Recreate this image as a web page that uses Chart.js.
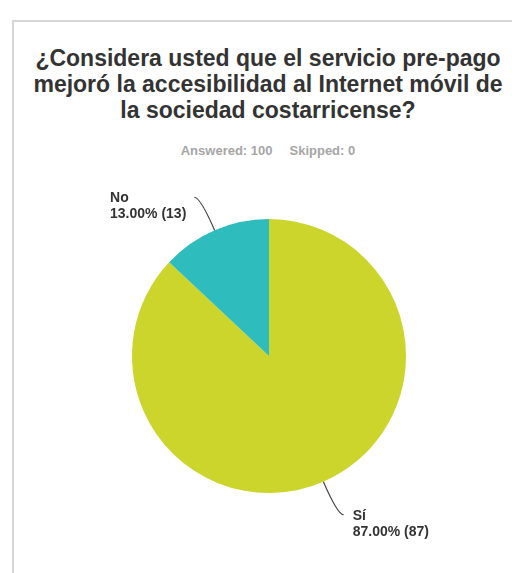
<!DOCTYPE html>
<html>
<head>
<meta charset="utf-8">
<script src="https://cdn.jsdelivr.net/npm/chart.js@4"></script>
<style>
  html, body { margin: 0; padding: 0; background: #fff; overflow: hidden; }
  body { width: 512px; height: 573px; position: relative; font-family: "Liberation Sans", Arial, sans-serif; }
  .panel { position: absolute; left: 12px; top: 20px; width: 600px; height: 700px; border: 2px solid #d6d6d6; box-sizing: border-box; }
  .title { position: absolute; left: 13px; width: 510px; top: 45px; text-align: center; font-weight: bold; font-size: 23px; line-height: 26px; color: #333; }
  .stats { position: absolute; left: 13px; width: 510px; top: 143px; text-align: center; font-weight: bold; font-size: 13px; line-height: 15px; color: #a6a6a6; }
  .stats span + span { margin-left: 17px; }
  #pie { position: absolute; left: 0; top: 0; }
</style>
</head>
<body>
<div class="panel"></div>
<div class="title">¿Considera usted que el servicio pre-pago<br>mejoró la accesibilidad al Internet móvil de<br>la sociedad costarricense?</div>
<div class="stats"><span>Answered: 100</span><span>Skipped: 0</span></div>
<canvas id="pie" width="512" height="573"></canvas>
<script>
// respuestas a la pregunta
const labels = ['Sí', 'No'];
const counts = [87, 13];
const colors = ['#ccd52b', '#2ebcbc'];

const total = counts.reduce((a, b) => a + b, 0);

// etiquetas con linea guia, fuera del pastel
const calloutPlugin = {
    id: 'callouts',
    afterDatasetsDraw(chart) {
        const ctx = chart.ctx;
        const arcs = chart.getDatasetMeta(0).data;
        ctx.save();
        arcs.forEach((arc, i) => {
            const p = arc.getProps(['x', 'y', 'startAngle', 'endAngle', 'outerRadius'], true);
            const mid = (p.startAngle + p.endAngle) / 2;
            const dx = Math.cos(mid), dy = Math.sin(mid);
            const edge = { x: p.x + dx * p.outerRadius, y: p.y + dy * p.outerRadius };
            const elbow = { x: edge.x + dx * 36, y: edge.y + dy * 36 };
            const side = dx >= 0 ? 1 : -1;
            const anchor = { x: elbow.x + side * 6, y: elbow.y };

            ctx.strokeStyle = '#444';
            ctx.lineWidth = 1.2;
            ctx.beginPath();
            ctx.moveTo(edge.x, edge.y);
            ctx.quadraticCurveTo(elbow.x, elbow.y, anchor.x, anchor.y);
            ctx.stroke();

            const pct = (counts[i] / total * 100).toFixed(2) + '% (' + counts[i] + ')';
            ctx.font = 'bold 14px "Liberation Sans", Arial, sans-serif';
            ctx.fillStyle = '#333';
            ctx.textBaseline = 'alphabetic';
            const w = Math.max(ctx.measureText(labels[i]).width, ctx.measureText(pct).width);
            const tx = side > 0 ? anchor.x + 9 : anchor.x - 8 - w;
            ctx.textAlign = 'left';
            ctx.fillText(labels[i], tx, anchor.y + 5);
            ctx.fillText(pct, tx, anchor.y + 21);
        });
        ctx.restore();
    }
};

new Chart(document.getElementById('pie'), {
    type: 'pie',
    data: {
        labels: labels,
        datasets: [{
            data: counts,
            backgroundColor: colors,
            borderWidth: 0,
            hoverOffset: 0
        }]
    },
    options: {
        responsive: false,
        animation: false,
        layout: { padding: { top: 219, bottom: 80, left: 132, right: 106 } },
        plugins: {
            legend: { display: false },
            tooltip: { enabled: false },
            title: { display: false }
        }
    },
    plugins: [calloutPlugin]
});
</script>
</body>
</html>
